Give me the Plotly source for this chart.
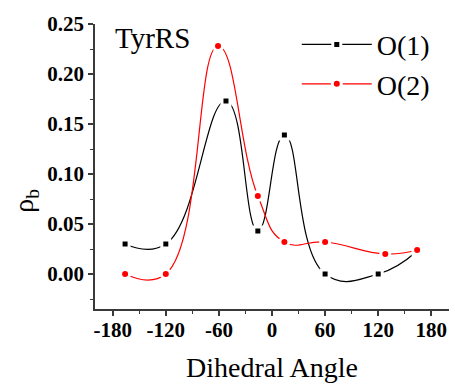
import plotly.graph_objects as go

# Dihedral angles (degrees) and bond critical point densities
angle_o1 = [-166, -120, -52, -16, 14, 60, 120, 164]
rho_o1 = [0.030, 0.030, 0.173, 0.043, 0.139, 0.000, 0.000, 0.023]

angle_o2 = [-166, -120, -61, -16, 14, 60, 128, 164]
rho_o2 = [0.000, 0.000, 0.228, 0.078, 0.032, 0.032, 0.020, 0.024]

x_ticks = [-180, -120, -60, 0, 60, 120, 180]
x_tick_text = ["-180", "-120", "-60", "0", "60", "120", "180"]
y_ticks = [0.00, 0.05, 0.10, 0.15, 0.20, 0.25]
y_tick_text = ["0.00", "0.05", "0.10", "0.15", "0.20", "0.25"]

SERIF = "Liberation Serif"
AXIS_COLOR = "#3a3a3a"

fig = go.Figure()
fig.add_trace(go.Scatter(
    x=angle_o1, y=rho_o1, name="O(1)", mode="lines+markers",
    line=dict(color="black", width=1.2, shape="spline", smoothing=1.3),
    marker=dict(symbol="square", size=8, color="black",
                line=dict(color="white", width=3)),
))
fig.add_trace(go.Scatter(
    x=angle_o2, y=rho_o2, name="O(2)", mode="lines+markers",
    line=dict(color="red", width=1.2, shape="spline", smoothing=1.3),
    marker=dict(symbol="circle", size=9, color="red",
                line=dict(color="white", width=3)),
))

fig.add_annotation(
    x=0.05, y=1.015, xref="paper", yref="paper", xanchor="left", yanchor="top",
    text="TyrRS", showarrow=False, font=dict(family=SERIF, size=29, color="black"),
)
# y-axis label placed as rotated text
fig.add_annotation(
    x=-0.195, y=0.38, xref="paper", yref="paper", xanchor="center", yanchor="middle",
    text="ρ<sub>b</sub>", textangle=-90, showarrow=False,
    font=dict(family=SERIF, size=28, color="black"),
)

fig.update_layout(
    width=452, height=385,
    margin=dict(l=95, r=3, t=24, b=76),
    paper_bgcolor="white", plot_bgcolor="white",
    showlegend=True,
    legend=dict(
        x=0.57, y=1.015, xanchor="left", yanchor="top",
        font=dict(family=SERIF, size=28, color="black"),
        bgcolor="rgba(0,0,0,0)", itemwidth=70, tracegroupgap=0,
    ),
    xaxis=dict(
        range=[-200, 200], tickvals=x_ticks, ticktext=x_tick_text,
        showline=True, linecolor=AXIS_COLOR, linewidth=1.5,
        ticks="outside", ticklen=5, tickwidth=1.5, tickcolor=AXIS_COLOR,
        minor=dict(dtick=30, tick0=0, ticks="outside", ticklen=3, tickcolor=AXIS_COLOR, tickwidth=1.2),
        showgrid=False, zeroline=False, ticklabelstandoff=-4,
        tickfont=dict(family=SERIF, size=21, color="black", weight="bold"),
        title=dict(text="Dihedral Angle", font=dict(family=SERIF, size=28, color="black"), standoff=16),
    ),
    yaxis=dict(
        range=[-0.035, 0.25], tickvals=y_ticks, ticktext=y_tick_text,
        showline=True, linecolor=AXIS_COLOR, linewidth=1.5,
        ticks="outside", ticklen=5, tickwidth=1.5, tickcolor=AXIS_COLOR,
        minor=dict(dtick=0.025, tick0=0, ticks="outside", ticklen=3, tickcolor=AXIS_COLOR, tickwidth=1.2),
        showgrid=False, zeroline=False,
        tickfont=dict(family=SERIF, size=21, color="black", weight="bold"),
    ),
)

fig.write_html("out.html")
